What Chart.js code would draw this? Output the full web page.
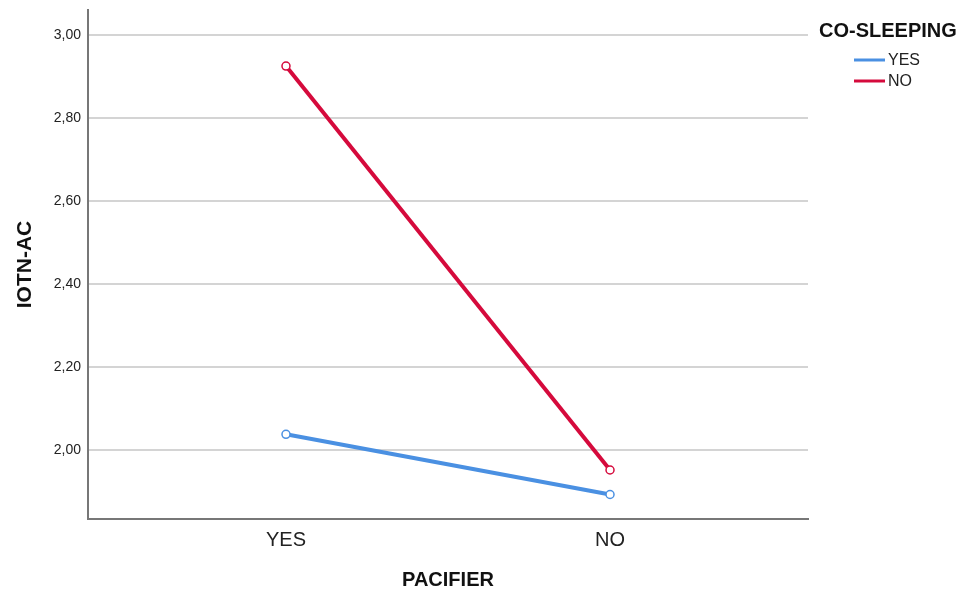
<!DOCTYPE html>
<html>
<head>
<meta charset="utf-8">
<script src="https://cdn.jsdelivr.net/npm/chart.js@4.4.1/dist/chart.umd.min.js"></script>
<style>
  html, body { margin: 0; padding: 0; background: #fff; }
  #wrap { width: 968px; height: 592px; position: relative; }
</style>
</head>
<body>
<div id="wrap"><canvas id="chart" width="968" height="592"></canvas></div>
<script>
const categories = ['YES', 'NO'];
const seriesNames = ['YES', 'NO'];
const coSleepingYes = [2.038, 1.893];
const coSleepingNo = [2.925, 1.952];
const yTicks = [2.0, 2.2, 2.4, 2.6, 2.8, 3.0];
const colors = ['#4a90e2', '#d50a3c'];

const font = 'Arial, "Liberation Sans", sans-serif';

function toPoints(values) {
  return values.map((v, i) => ({ x: i, y: v }));
}

// legend drawn at the right, like the SPSS output
const sideLegend = {
  id: 'sideLegend',
  afterDraw(chart) {
    const ctx = chart.ctx;
    ctx.save();
    ctx.fillStyle = '#111';
    ctx.font = 'bold 20px ' + font;
    ctx.textBaseline = 'middle';
    ctx.textAlign = 'left';
    ctx.fillText('CO-SLEEPING', 819, 31);
    chart.data.datasets.forEach((ds, i) => {
      const y = 60 + i * 21;
      ctx.strokeStyle = ds.borderColor;
      ctx.lineWidth = 3;
      ctx.beginPath();
      ctx.moveTo(854, y);
      ctx.lineTo(885, y);
      ctx.stroke();
      ctx.fillStyle = '#222';
      ctx.font = '16px ' + font;
      ctx.fillText(ds.label, 888, y + 1);
    });
    ctx.restore();
  }
};

new Chart(document.getElementById('chart').getContext('2d'), {
  type: 'line',
  data: {
    datasets: [
      { label: seriesNames[0], data: toPoints(coSleepingYes), borderColor: colors[0] },
      { label: seriesNames[1], data: toPoints(coSleepingNo), borderColor: colors[1] }
    ].map(ds => Object.assign(ds, {
      borderWidth: 4,
      pointRadius: 4,
      pointBorderWidth: 1.5,
      pointBackgroundColor: '#fff',
      pointBorderColor: ds.borderColor,
      tension: 0
    }))
  },
  options: {
    responsive: false,
    animation: false,
    layout: { padding: { top: 10, right: 160, left: 0, bottom: 0 } },
    plugins: { legend: { display: false }, tooltip: { enabled: false } },
    scales: {
      x: {
        type: 'linear',
        min: -0.611,
        max: 1.611,
        afterBuildTicks(scale) { scale.ticks = categories.map((c, i) => ({ value: i })); },
        afterFit(scale) {
          scale.height = 73;
          scale.paddingLeft = 0;
          scale.paddingRight = 0;
        },
        ticks: {
          callback: (v) => categories[v],
          color: '#222',
          font: { family: font, size: 20 },
          padding: 9,
          maxRotation: 0
        },
        grid: { display: false, drawTicks: false },
        border: { color: '#777', width: 2 },
        title: {
          display: true,
          text: 'PACIFIER',
          color: '#111',
          font: { family: font, size: 20, weight: 'bold' },
          padding: { top: 0, bottom: 0 }
        }
      },
      y: {
        min: 1.834,
        max: 3.06,
        afterBuildTicks(scale) { scale.ticks = yTicks.map(v => ({ value: v })); },
        afterFit(scale) {
          scale.width = 88;
          scale.paddingTop = 0;
          scale.paddingBottom = 0;
        },
        ticks: {
          callback: (v) => v.toFixed(2).replace('.', ','),
          color: '#222',
          font: { family: font, size: 14 },
          padding: 7
        },
        grid: { color: '#d4d4d4', lineWidth: 2, drawTicks: false },
        border: { color: '#777', width: 2 },
        title: {
          display: true,
          text: 'IOTN-AC',
          color: '#111',
          font: { family: font, size: 21, weight: 'bold' },
          padding: { top: 13, bottom: 0 }
        }
      }
    }
  },
  plugins: [sideLegend]
});
</script>
</body>
</html>
